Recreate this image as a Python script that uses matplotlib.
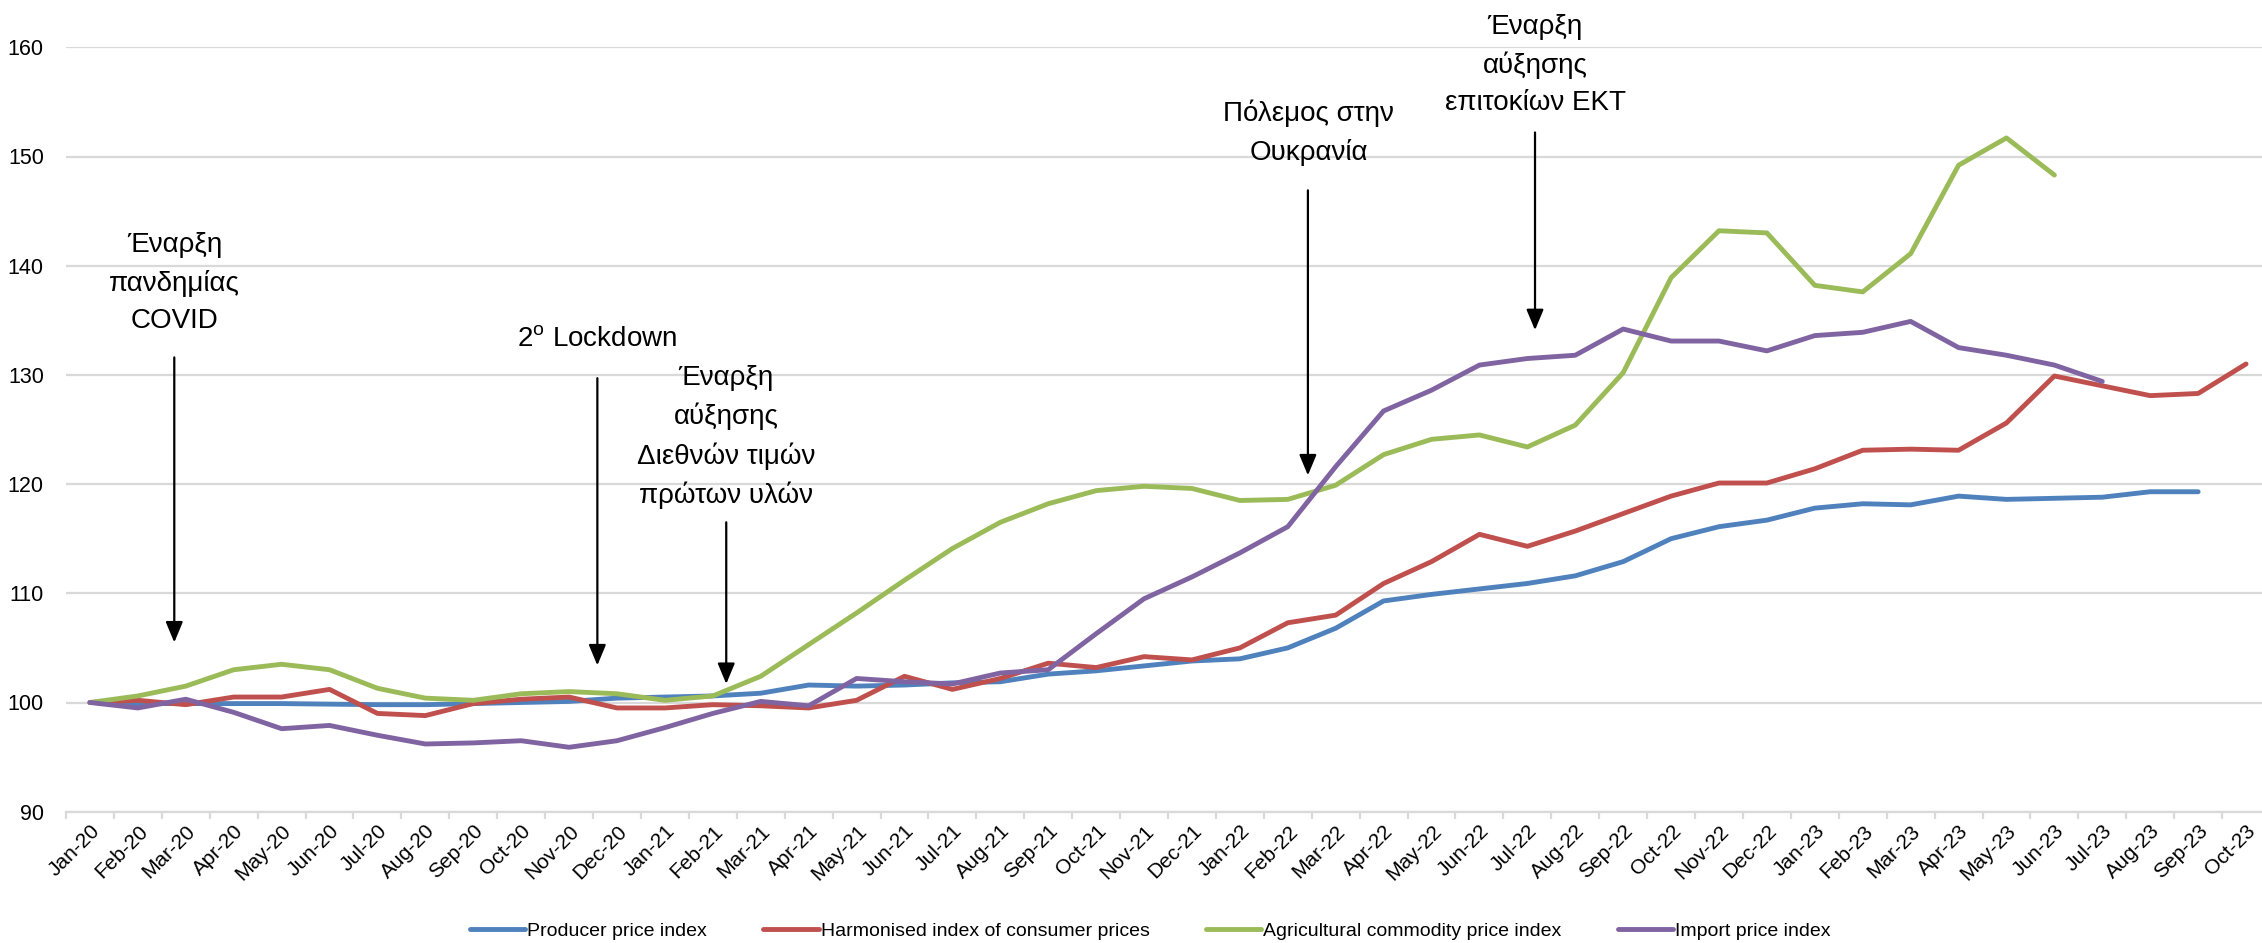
import numpy as np
import matplotlib.pyplot as plt
from matplotlib.ticker import FixedLocator

plt.rcParams['font.family'] = ['Liberation Sans', 'DejaVu Sans']
plt.rcParams['mathtext.fontset'] = 'custom'
plt.rcParams['mathtext.rm'] = 'Liberation Sans'

# month labels Jan-20 .. Oct-23
months = ['Jan', 'Feb', 'Mar', 'Apr', 'May', 'Jun', 'Jul', 'Aug', 'Sep', 'Oct', 'Nov', 'Dec']
labels = [m + '-' + y for y in ['20', '21', '22', '23'] for m in months][:46]

# index values (Jan-20 = 100)
ppi = [100.0, 99.9, 99.9, 99.9, 99.9, 99.85, 99.8, 99.8, 99.9, 100.0, 100.1, 100.4,
       100.5, 100.6, 100.85, 101.6, 101.5, 101.6, 101.8, 101.9, 102.6, 102.9, 103.35, 103.8,
       104.0, 105.0, 106.8, 109.3, 109.9, 110.4, 110.9, 111.6, 112.9, 115.0, 116.1, 116.7,
       117.8, 118.2, 118.1, 118.9, 118.6, 118.7, 118.8, 119.3, 119.3]
hicp = [100.0, 100.2, 99.8, 100.5, 100.5, 101.2, 99.0, 98.8, 99.9, 100.3, 100.5, 99.5,
        99.5, 99.8, 99.7, 99.5, 100.2, 102.4, 101.2, 102.2, 103.6, 103.2, 104.2, 103.9,
        105.0, 107.3, 108.0, 110.9, 112.9, 115.4, 114.3, 115.7, 117.3, 118.9, 120.1, 120.1,
        121.4, 123.1, 123.2, 123.1, 125.6, 129.9, 129.0, 128.1, 128.3, 131.0]
agri = [100.0, 100.6, 101.5, 103.0, 103.5, 103.0, 101.3, 100.4, 100.2, 100.8, 101.0, 100.8,
        100.2, 100.6, 102.4, 105.3, 108.2, 111.2, 114.1, 116.5, 118.2, 119.4, 119.8, 119.6,
        118.5, 118.6, 119.9, 122.7, 124.1, 124.5, 123.4, 125.4, 130.2, 138.9, 143.2, 143.0,
        138.2, 137.6, 141.1, 149.2, 151.7, 148.3]
imports = [100.0, 99.5, 100.3, 99.1, 97.6, 97.9, 97.0, 96.2, 96.3, 96.5, 95.9, 96.5,
           97.7, 99.0, 100.1, 99.7, 102.2, 101.9, 101.7, 102.7, 103.0, 106.3, 109.5, 111.5,
           113.7, 116.1, 121.6, 126.7, 128.6, 130.9, 131.5, 131.8, 134.2, 133.1, 133.1, 132.2,
           133.6, 133.9, 134.9, 132.5, 131.8, 130.9, 129.4]

series = [('Producer price index', ppi, '#4F81BD'),
          ('Harmonised index of consumer prices', hicp, '#C0504D'),
          ('Agricultural commodity price index', agri, '#9BBB59'),
          ('Import price index', imports, '#8064A2')]

# event annotations: text, text x, text y, arrow x, arrow tail y, arrow tip y
events = [('Έναρξη\nπανδημίας\nCOVID', 1.77, 138.4, 1.76, 131.6, 105.5),
          ('2$^{\\rm o}$ Lockdown', 10.59, 133.2, 10.59, 129.7, 103.4),
          ('Έναρξη\nαύξησης\nΔιεθνών τιμών\nπρώτων υλών', 13.28, 124.3, 13.28, 116.5, 101.7),
          ('Πόλεμος στην\nΟυκρανία', 25.44, 152.2, 25.42, 146.9, 120.8),
          ('Έναρξη\nαύξησης\nεπιτοκίων ΕΚΤ', 30.16, 158.4, 30.16, 152.2, 134.1)]

fig = plt.figure(figsize=(22.62, 9.43), dpi=100)
ax = fig.add_axes([66 / 2262, 1 - 811.7 / 943, 2204 / 2262, 764.4 / 943])

for name, vals, col in series:
    ax.plot(np.arange(len(vals)), vals, color=col, lw=3.5, label=name,
            solid_joinstyle='round', solid_capstyle='round')

ax.set_xlim(-0.5, 45.5)
ax.set_ylim(90, 160)
ax.set_yticks(np.arange(90, 161, 10))
ax.grid(axis='y', color='#d9d9d9', lw=1.6)
ax.set_axisbelow(True)
for s in ['top', 'right', 'left']:
    ax.spines[s].set_visible(False)
ax.spines['bottom'].set_color('#d9d9d9')
ax.spines['bottom'].set_linewidth(1.6)

ax.set_xticks(np.arange(46))
ax.set_xticklabels(labels, rotation=45, ha='right', va='top', rotation_mode='anchor', fontsize=15)
ax.xaxis.set_minor_locator(FixedLocator(np.arange(-0.5, 46, 1)))
ax.tick_params(axis='x', which='major', length=0, pad=7)
ax.tick_params(axis='x', which='minor', length=5, width=1.6, color='#d9d9d9')
ax.tick_params(axis='y', length=0, pad=16, labelsize=15.5)

for txt, tx, ty, axx, y0, y1 in events:
    ax.text(tx, ty, txt, ha='center', va='center', fontsize=20, linespacing=1.55)
    ax.annotate('', xy=(axx, y1), xytext=(axx, y0),
                arrowprops=dict(arrowstyle='-|>,head_length=0.6,head_width=0.25',
                                color='black', lw=1.6, mutation_scale=21,
                                shrinkA=0, shrinkB=0))

fig.legend(loc='center', bbox_to_anchor=(0.5085, 0.013), ncol=4, frameon=False,
           fontsize=14, handlelength=2.85, handletextpad=0.1, columnspacing=2.9)

plt.savefig('out.png', dpi=100)
